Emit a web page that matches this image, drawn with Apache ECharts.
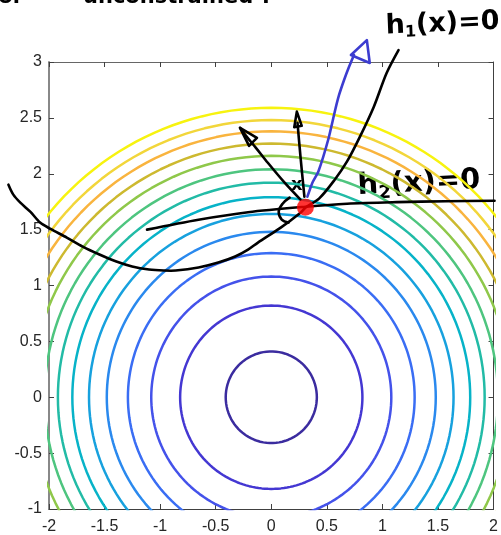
<!DOCTYPE html>
<html><head><meta charset="utf-8">
<script src="https://cdn.jsdelivr.net/npm/echarts@6/dist/echarts.min.js"></script>
<style>html,body{margin:0;padding:0;background:#fff;overflow:hidden}#c{width:501px;height:535px}</style>
</head><body><div id="c"></div><script>
// contour levels (circle radii), inner -> outer
const contourRadii = [0.41, 0.82, 1.08, 1.29, 1.48, 1.64, 1.79, 1.92, 2.04, 2.16, 2.27, 2.38, 2.48, 2.59];
const contourColors = ['#3b2c9f','#4437d2','#4452ea','#3a6df4','#2a89ee','#17a1de','#07b3c8','#22bba6','#4ec57f','#8fc84a','#cdb92f','#f9b43e','#f2d63a','#f7f30f'];
// hand-drawn annotation strokes (data coordinates)
const h1Curve = [[-2.365,1.902],[-2.321,1.813],[-2.258,1.741],[-2.169,1.661],[-2.080,1.563],[-1.991,1.509],[-1.840,1.429],[-1.697,1.348],[-1.546,1.277],[-1.394,1.214],[-1.252,1.170],[-1.100,1.143],[-0.967,1.134],[-0.860,1.134],[-0.655,1.161],[-0.477,1.205],[-0.325,1.259],[-0.209,1.321],[-0.120,1.384],[0.085,1.518],[0.263,1.652],[0.307,1.696],[0.432,1.780],[0.566,1.940],[0.682,2.110],[0.797,2.330],[0.922,2.598],[1.038,2.902],[1.145,3.107]];
const h2Curve = [[-1.118,1.500],[-0.655,1.589],[-0.209,1.656],[0.307,1.705],[0.682,1.732],[1.127,1.746],[1.572,1.754],[2.009,1.759]];
const upArrow = [[0.298,1.795],[0.263,2.152],[0.236,2.455]];
const upArrowHead = [[0.207,2.417],[0.230,2.556],[0.274,2.429],[0.207,2.417]];
const leftArrow = [[0.263,1.768],[0.120,1.920],[-0.031,2.098],[-0.138,2.232],[-0.227,2.339],[-0.281,2.411]];
const leftArrowHead = [[-0.129,2.321],[-0.281,2.411],[-0.200,2.250],[-0.129,2.321]];
const blueArrow = [[0.325,1.795],[0.370,1.920],[0.423,2.018],[0.512,2.304],[0.575,2.571],[0.610,2.705],[0.655,2.839],[0.699,2.955],[0.744,3.063]];
const blueArrowHead = [[0.717,3.063],[0.860,3.196],[0.886,2.991],[0.717,3.063]];
const angleArc = [[0.165,1.786],[0.102,1.732],[0.067,1.661],[0.094,1.589],[0.156,1.563]];
const optimumPoint = [[0.307,1.701]];

const strokes = [
  {pts:h1Curve,color:'#000',smooth:0.3},
  {pts:h2Curve,color:'#000',smooth:0.3},
  {pts:upArrow,color:'#000',smooth:0.3},
  {pts:upArrowHead,color:'#000',smooth:0},
  {pts:leftArrow,color:'#000',smooth:0.3},
  {pts:leftArrowHead,color:'#000',smooth:0},
  {pts:blueArrow,color:'#3c3cd0',smooth:0.2},
  {pts:blueArrowHead,color:'#3c3cd0',smooth:0},
  {pts:angleArc,color:'#000',smooth:0.4}
];

function circle(r){
  const pts=[];
  for(let a=0;a<=360;a+=2){const t=a*Math.PI/180;pts.push([r*Math.cos(t), r*Math.sin(t)]);}
  return pts;
}
const axisCommon = (pos, showLabel, lineColor, lw) => ({
  type:'value', min: pos==='bottom'||pos==='top' ? -2 : -1, max: pos==='bottom'||pos==='top' ? 2 : 3,
  interval:0.5, position:pos,
  axisLine:{show:true,onZero:false,lineStyle:{color:lineColor,width:lw}},
  axisTick:{show:true,inside:true,length:5,lineStyle:{color:'#404040',width:1}},
  axisLabel:{show:showLabel,fontSize:16,color:'#262626',fontFamily:'Liberation Sans',margin:pos==='bottom'?10:7},
  splitLine:{show:false}
});
const series=[];
contourRadii.forEach((r,i)=>{
  series.push({type:'line',data:circle(r),showSymbol:false,symbol:'none',smooth:false,
    lineStyle:{color:contourColors[i],width:2.5},z:2,silent:true});
});
series.push({
  type:'custom', clip:false, z:5, silent:true,
  data: strokes.map(()=>[0,0]),
  renderItem:function(params, api){
    const s = strokes[params.dataIndex];
    return {type:'polyline', shape:{points:s.pts.map(p=>api.coord(p)), smooth:s.smooth},
      style:{stroke:s.color, lineWidth:2.6, fill:null, lineCap:'round', lineJoin:'round'}};
  }
});
series.push({type:'scatter',data:optimumPoint,symbolSize:17,itemStyle:{color:'#ff0000'},z:8,silent:true});

const chart=echarts.init(document.getElementById('c'),null,{renderer:'canvas'});
chart.setOption({
  animation:false,
  backgroundColor:'#fff',
  grid:{left:49,top:62,width:449,height:448,containLabel:false},
  xAxis:[axisCommon('bottom',true,'#404040',1),axisCommon('top',false,'#666',1)],
  yAxis:[axisCommon('left',true,'#888',2),axisCommon('right',false,'#404040',1)],
  series:series,
  graphic:[
    {type:'text',x:-26,y:-13,style:{text:'ator',font:'bold 21px "DejaVu Sans"',fill:'#000'}},
    {type:'text',x:83,y:-13,style:{text:'unconstrained ?',font:'bold 21px "DejaVu Sans"',fill:'#000'}},
    {type:'text',x:386,y:-4,rotation:0.04,originX:385,originY:30,style:{text:'{a|h}{s|1}{a|(x)=0}',rich:{a:{fontSize:27,fontFamily:'DejaVu Sans',fontWeight:'bold',lineHeight:30,fill:'#000'},s:{fontSize:16,fontFamily:'DejaVu Sans',fontWeight:'bold',lineHeight:16,verticalAlign:'bottom',fill:'#000'}}}},
    {type:'text',x:366,y:151,rotation:0.05,originX:366,originY:195,style:{text:'{a|h}{s|2}{a|(x)=0}',rich:{a:{fontSize:29,fontFamily:'DejaVu Sans',fontWeight:'bold',lineHeight:34,fill:'#000'},s:{fontSize:18,fontFamily:'DejaVu Sans',fontWeight:'bold',lineHeight:18,verticalAlign:'bottom',fill:'#000'}}}},
    {type:'text',x:291,y:176,style:{text:'x',font:'bold 18px "DejaVu Sans"',fill:'#000'}}
  ]
});
</script></body></html>
